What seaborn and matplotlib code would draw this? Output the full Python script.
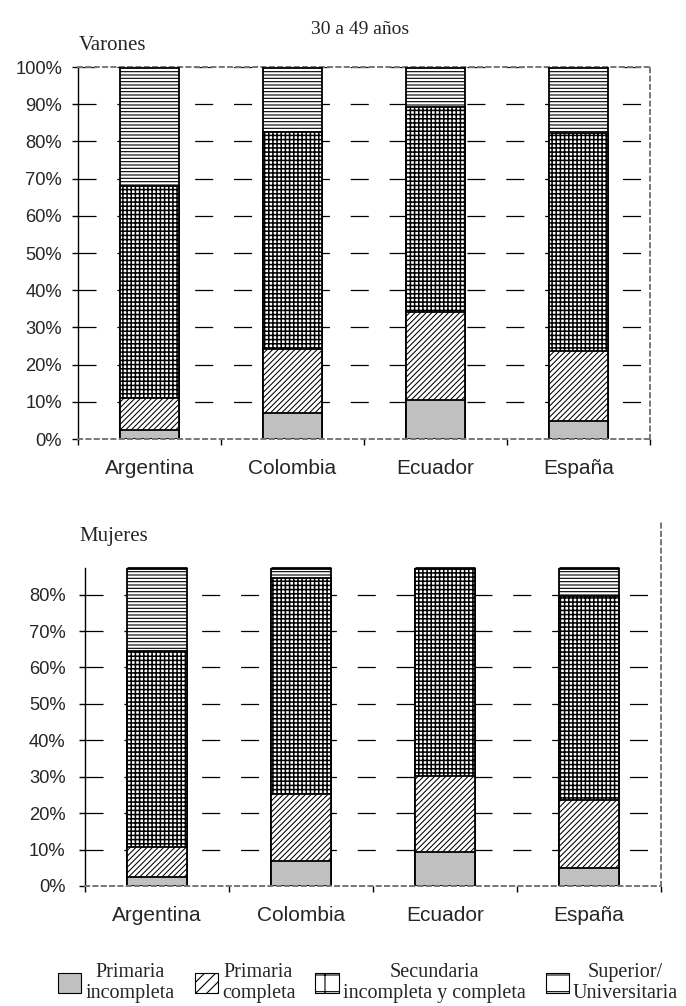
import numpy as np
import pandas as pd
import matplotlib
matplotlib.use("Agg")
import matplotlib.pyplot as plt
from matplotlib.patches import Patch
from matplotlib.ticker import PercentFormatter, FixedLocator
import seaborn as sns

# ---------------- data ----------------
countries = ["Argentina", "Colombia", "Ecuador", "España"]
levels = ["Primaria\nincompleta", "Primaria\ncompleta",
          "Secundaria\nincompleta y completa", "Superior/\nUniversitaria"]

# Varones (30 a 49 años), percentages
v_prim_inc = [2.4, 6.9, 10.5, 4.9]
v_prim_comp = [8.5, 17.3, 23.6, 18.8]
v_secundaria = [57.1, 58.2, 55.2, 58.6]
v_superior = [32.0, 17.6, 10.7, 17.7]

# Mujeres (30 a 49 años), percentages
m_prim_inc = [2.4, 7.0, 9.2, 5.0]
m_prim_comp = [8.4, 18.2, 21.0, 18.6]
m_secundaria = [53.8, 59.3, 59.8, 56.1]
m_superior = [35.4, 15.5, 10.0, 20.3]

top_ticks = [0, 10, 20, 30, 40, 50, 60, 70, 80, 90, 100]
bottom_ticks = [0, 10, 20, 30, 40, 50, 60, 70, 80]

# ---------------- style ----------------
sns.set_style("white")
plt.rcParams["font.family"] = ["Liberation Sans", "DejaVu Sans"]
plt.rcParams["hatch.linewidth"] = 0.8
plt.rcParams["lines.scale_dashes"] = False

SERIF = ["Liberation Serif", "DejaVu Serif"]
fills = ["#c0c0c0", "white", "white", "white"]
hatches = [None, "//////", "++++", "-----"]
hatch_lw = [0.8, 0.75, 1.1, 0.8]

fig = plt.figure(figsize=(6.86, 10.06), dpi=100)
W, H = 686.0, 1006.0


def make_axes(left, right, top, bottom):
    return fig.add_axes([left / W, 1 - bottom / H, (right - left) / W, (bottom - top) / H])


def draw_panel(ax, layers, ymax, ticks, ypad):
    cum = np.cumsum(np.array(layers, dtype=float), axis=0)
    # draw cumulative bars from top layer down so each covers the lower part
    for k in range(len(layers) - 1, -1, -1):
        df = pd.DataFrame({"pais": countries, "valor": cum[k]})
        n_before = len(ax.patches)
        sns.barplot(data=df, x="pais", y="valor", color=fills[k], saturation=1,
                    width=0.41, edgecolor="black", linewidth=1.3, ax=ax, zorder=3)
        for p in ax.patches[n_before:]:
            p.set_facecolor(fills[k])
            p.set_edgecolor("black")
            if hatches[k]:
                p.set_hatch(hatches[k])
                if hasattr(p, "set_hatch_linewidth"):
                    p.set_hatch_linewidth(hatch_lw[k])
    ax.set_xlim(-0.5, len(countries) - 0.5)
    ax.set_ylim(0, ymax)
    ax.set_xlabel("")
    ax.set_ylabel("")
    # dashed gridlines
    for t in ticks[1:]:
        ax.axhline(t, color="black", lw=0.9, ls=(0, (13, 15)), zorder=1)
    ax.yaxis.set_major_locator(FixedLocator(ticks))
    ax.yaxis.set_major_formatter(PercentFormatter(100, decimals=0))
    ax.set_xticks(range(len(countries)))
    ax.set_xticklabels(countries)
    ax.xaxis.set_minor_locator(FixedLocator(np.arange(-0.5, len(countries), 1.0)))
    ax.tick_params(axis="x", which="major", length=0, pad=14.5, labelsize=15)
    ax.tick_params(axis="x", which="minor", length=4.5, width=1, color="black",
                   direction="out", bottom=True)
    ax.tick_params(axis="y", which="major", length=4.5, width=1, color="black",
                   direction="out", pad=ypad, labelsize=13.2, left=True)
    ax.spines["left"].set_color("black")
    ax.spines["left"].set_linewidth(1.0)
    for s in ["bottom", "right", "top"]:
        ax.spines[s].set_color("#777777")
        ax.spines[s].set_linewidth(1.4)
        ax.spines[s].set_linestyle((0, (3, 3)))
    ax.spines["bottom"].set_zorder(4)


# Varones panel
ax1 = make_axes(78, 650, 67, 439)
draw_panel(ax1, [v_prim_inc, v_prim_comp, v_secundaria, v_superior], 100, top_ticks, 7)

# Mujeres panel (clipped at ~87%)
ax2 = make_axes(85, 661, 568, 886)
draw_panel(ax2, [m_prim_inc, m_prim_comp, m_secundaria, m_superior], 87.3, bottom_ticks, 9.5)
ax2.spines["top"].set_visible(False)
ax2.spines["right"].set_bounds(0, 100)
# black top edge on clipped bars
for p in ax2.patches[:len(countries)]:
    x0 = p.get_x()
    ax2.plot([x0, x0 + p.get_width()], [87.3, 87.3], color="black", lw=2.0,
             zorder=5, clip_on=False, solid_capstyle="butt")

# Texts
fig.text(360 / W, 1 - 29 / H, "30 a 49 años", family=SERIF, fontsize=14,
         ha="center", va="center")
fig.text(79 / W, 1 - 46 / H, "Varones", family=SERIF, fontsize=15,
         ha="left", va="center")
fig.text(79 / W, 1 - 537 / H, "Mujeres", family=SERIF, fontsize=15,
         ha="left", va="center")

# Legend
leg_hatches = [None, "///", "+", "-"]
handles = [Patch(facecolor=fills[k], edgecolor="black", hatch=leg_hatches[k], lw=0.8)
           for k in range(4)]
leg = fig.legend(handles, levels, loc="center", bbox_to_anchor=(368 / W, 1 - 983 / H),
                 ncol=4, frameon=False, handlelength=1.15, handleheight=1.1,
                 handletextpad=0.2, columnspacing=1.0,
                 prop={"family": SERIF, "size": 14.5})
for t in leg.get_texts():
    t.set_multialignment("center")

fig.savefig("out.png", dpi=100)
